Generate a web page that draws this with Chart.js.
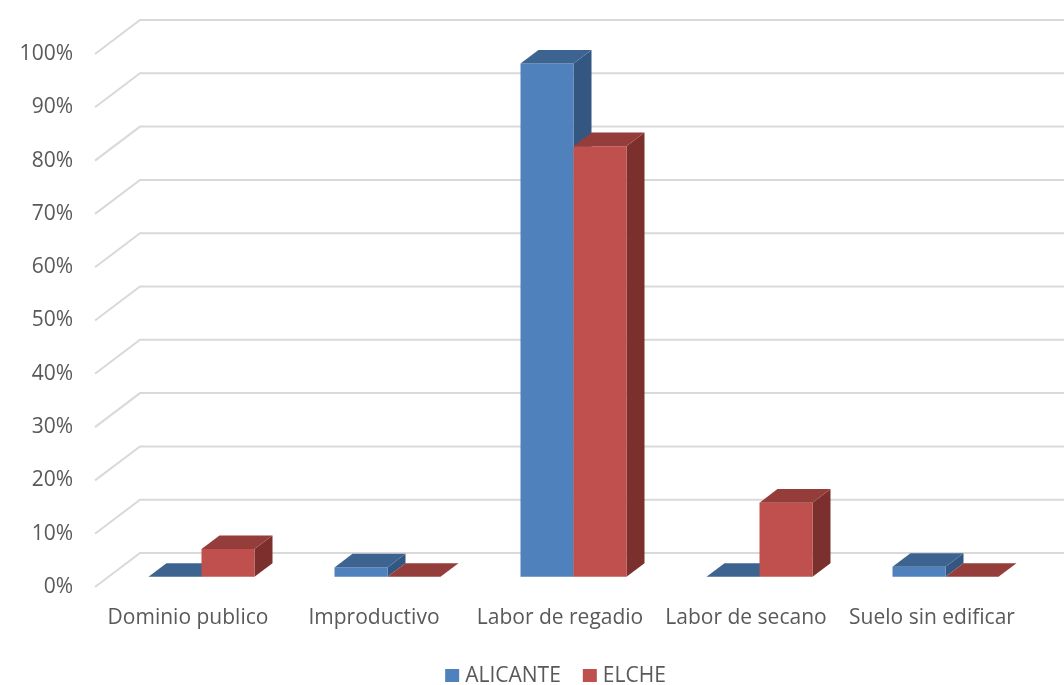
<!DOCTYPE html>
<html><head><meta charset="utf-8">
<script src="https://cdn.jsdelivr.net/npm/chart.js@4/dist/chart.umd.min.js"></script>
<style>html,body{margin:0;padding:0;background:#fff;}</style>
</head><body>
<canvas id="c" width="1064" height="685"></canvas>
<script>
const categories = ['Dominio publico', 'Improductivo', 'Labor de regadio', 'Labor de secano', 'Suelo sin edificar'];
const seriesNames = ['ALICANTE', 'ELCHE'];
const alicante = [0, 1.76, 96.3, 0, 1.88];
const elche = [5.2, 0, 80.8, 13.9, 0];
const yTickValues = [0, 10, 20, 30, 40, 50, 60, 70, 80, 90, 100];

const FONT = '"Open Sans", "DejaVu Sans", sans-serif';
const TEXT = '#595959';
const DEPTH_DX = 45, DEPTH_DY = -34;
const BAR_FRONT = 0.30, BAR_BACK = 0.70;
const faces = [
  {front: '#4F81BD', top: '#3D6491', side: '#345782'},
  {front: '#C0504D', top: '#953D3B', side: '#7C302E'}
];

function poly(ctx, pts, color) {
  ctx.beginPath();
  ctx.moveTo(pts[0][0], pts[0][1]);
  for (let i = 1; i < pts.length; i++) ctx.lineTo(pts[i][0], pts[i][1]);
  ctx.closePath();
  ctx.fillStyle = color;
  ctx.fill();
}

const threeD = {
  id: 'threeD',
  beforeDatasetsDraw(chart) {
    const ctx = chart.ctx, ys = chart.scales.y, area = chart.chartArea;
    ctx.save();
    ctx.strokeStyle = '#D9D9D9';
    ctx.lineWidth = 2;
    yTickValues.forEach(v => {
      const yf = ys.getPixelForValue(v);
      ctx.beginPath();
      ctx.moveTo(area.left, yf);
      ctx.lineTo(area.left + DEPTH_DX, yf + DEPTH_DY);
      ctx.lineTo(chart.width, yf + DEPTH_DY);
      ctx.stroke();
    });
    ctx.restore();
  },
  beforeDatasetDraw() { return false; },
  afterDatasetsDraw(chart) {
    const ctx = chart.ctx;
    const fx = BAR_FRONT * DEPTH_DX, fy = BAR_FRONT * DEPTH_DY;
    const bx = BAR_BACK * DEPTH_DX, by = BAR_BACK * DEPTH_DY;
    ctx.save();
    for (let i = 0; i < categories.length; i++) {
      chart.data.datasets.forEach((ds, d) => {
        const el = chart.getDatasetMeta(d).data[i];
        const {x, y, base, width} = el.getProps(['x', 'y', 'base', 'width'], true);
        const l = x - width / 2, r = x + width / 2;
        const c = faces[d];
        // side face
        poly(ctx, [[r + fx, y + fy], [r + bx, y + by], [r + bx, base + by], [r + fx, base + fy]], c.side);
        // front face
        if (base - y > 0.01) poly(ctx, [[l + fx, y + fy], [r + fx, y + fy], [r + fx, base + fy], [l + fx, base + fy]], c.front);
        // top face
        poly(ctx, [[l + fx, y + fy], [r + fx, y + fy], [r + bx, y + by], [l + bx, y + by]], c.top);
      });
    }
    ctx.restore();
  },
  afterDraw(chart) {
    const ctx = chart.ctx;
    ctx.save();
    ctx.font = '21px ' + FONT;
    ctx.textBaseline = 'middle';
    const box = 14, gapText = 6, gapItem = 22;
    const items = chart.data.datasets.map((ds, d) => ({label: ds.label, color: faces[d].front, w: ctx.measureText(ds.label).width}));
    const total = items.reduce((s, it) => s + box + gapText + it.w, 0) + gapItem * (items.length - 1);
    let x = 555.5 - total / 2;
    const cy = 676;
    items.forEach(it => {
      ctx.fillStyle = it.color;
      ctx.fillRect(x, cy - 7, box, 13);
      ctx.fillStyle = TEXT;
      ctx.fillText(it.label, x + box + gapText, cy);
      x += box + gapText + it.w + gapItem;
    });
    ctx.restore();
  }
};

new Chart(document.getElementById('c'), {
  type: 'bar',
  data: {
    labels: categories,
    datasets: [
      {label: seriesNames[0], data: alicante, backgroundColor: faces[0].front, borderWidth: 0},
      {label: seriesNames[1], data: elche, backgroundColor: faces[1].front, borderWidth: 0}
    ]
  },
  options: {
    responsive: false,
    animation: false,
    devicePixelRatio: 1,
    layout: {padding: {top: 54, left: 0, right: 39, bottom: 38}},
    datasets: {bar: {categoryPercentage: 0.57, barPercentage: 1}},
    plugins: {legend: {display: false}, tooltip: {enabled: false}},
    scales: {
      x: {
        grid: {display: false, drawTicks: false},
        border: {display: false},
        ticks: {color: TEXT, font: {family: FONT, size: 21}, padding: 18, maxRotation: 0, autoSkip: false},
        afterFit(s) { s.height = 60; }
      },
      y: {
        min: 0, max: 100,
        grid: {display: false, drawTicks: false},
        border: {display: false},
        afterBuildTicks(s) { s.ticks = yTickValues.map(v => ({value: v})); },
        ticks: {color: TEXT, font: {family: FONT, size: 21}, padding: 22, callback: v => v + '%'},
        afterFit(s) { s.width = 95; }
      }
    }
  },
  plugins: [threeD]
});
</script>
</body></html>
